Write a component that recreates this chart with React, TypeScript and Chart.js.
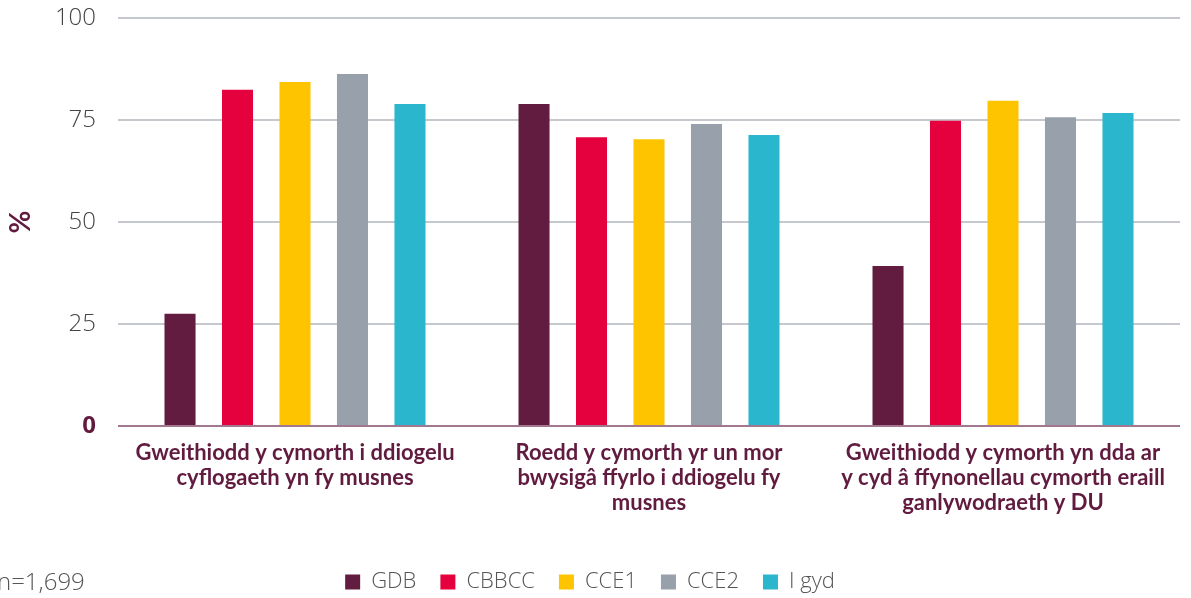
import React, { useEffect, useRef } from 'react';
import { Chart, registerables } from 'chart.js';

Chart.register(...registerables);

const categories: string[][] = [
  ['Gweithiodd y cymorth i ddiogelu', 'cyflogaeth yn fy musnes'],
  ['Roedd y cymorth yr un mor', 'bwysigâ ffyrlo i ddiogelu fy', 'musnes'],
  ['Gweithiodd y cymorth yn dda ar', 'y cyd â ffynonellau cymorth eraill', 'ganlywodraeth y DU'],
];
const seriesNames = ['GDB', 'CBBCC', 'CCE1', 'CCE2', 'I gyd'];
const gdb = [27.5, 78.9, 39.2];
const cbbcc = [82.4, 70.8, 74.8];
const cce1 = [84.3, 70.3, 79.7];
const cce2 = [86.3, 74.0, 75.7];
const iGyd = [78.9, 71.3, 76.7];
const seriesColors = ['#621c3f', '#e5003e', '#fec400', '#98a0ab', '#2ab7cd'];
const yTickValues = [0, 25, 50, 75, 100];
const axisTitle = '%';
const sampleNote = 'n=1,699';

const W = 1191;
const H = 598;
const AREA_LEFT = 118;
const AREA_BOTTOM = 426;
const LEGEND_SHIFT = 5;
const MAROON = '#611b3f';

export default function App() {
  const ref = useRef<HTMLCanvasElement | null>(null);

  useEffect(() => {
    if (!ref.current) return;
    const values = [gdb, cbbcc, cce1, cce2, iGyd];
    const notePlugin = {
      id: 'sampleNote',
      afterDraw(chart: any) {
        const ctx = chart.ctx;
        ctx.save();
        ctx.font = '300 24px "Open Sans"';
        ctx.fillStyle = '#555555';
        ctx.textAlign = 'left';
        ctx.textBaseline = 'middle';
        ctx.fillText(sampleNote, -3, 583);
        ctx.restore();
      },
    };
    const chart = new Chart(ref.current, {
      type: 'bar',
      data: {
        labels: categories,
        datasets: seriesNames.map((name, i) => ({
          label: name,
          data: values[i],
          backgroundColor: seriesColors[i],
          borderWidth: 0,
          categoryPercentage: 0.812,
          barPercentage: 0.54,
        })),
      },
      options: {
        responsive: false,
        animation: false,
        layout: { padding: { top: 18, right: 11, left: 0, bottom: -LEGEND_SHIFT } },
        plugins: {
          tooltip: { enabled: false },
          legend: {
            position: 'bottom',
            labels: {
              boxWidth: 15,
              boxHeight: 15,
              padding: 24,
              color: '#555555',
              font: { family: '"Open Sans"', size: 22, weight: '300' },
            },
          },
        },
        scales: {
          x: {
            grid: { display: false },
            border: { display: false },
            ticks: {
              color: MAROON,
              font: { family: 'Lato', size: 22, weight: 'bold', lineHeight: 1.15 },
              padding: 6,
              maxRotation: 0,
              autoSkip: false,
            },
            afterFit: (scale: any) => {
              const legendH = scale.chart.legend ? scale.chart.legend.height : 0;
              scale.height = H + LEGEND_SHIFT - AREA_BOTTOM - legendH;
              scale.paddingLeft = 0;
              scale.paddingRight = 0;
            },
          },
          y: {
            min: 0,
            max: 100,
            afterBuildTicks: (scale: any) => {
              scale.ticks = yTickValues.map((v) => ({ value: v }));
            },
            afterFit: (scale: any) => {
              scale.width = AREA_LEFT;
              scale.paddingTop = 0;
              scale.paddingBottom = 0;
            },
            border: { display: false },
            grid: {
              drawTicks: false,
              lineWidth: 2,
              color: (ctx: any) => (ctx.tick && ctx.tick.value === 0 ? '#a27891' : '#c5c8cd'),
            },
            ticks: {
              padding: 22,
              color: (ctx: any) => (ctx.tick && ctx.tick.value === 0 ? MAROON : '#444444'),
              font: (ctx: any) =>
                ctx.tick && ctx.tick.value === 0
                  ? { family: '"Open Sans"', size: 24, weight: 'bold' }
                  : { family: '"Open Sans"', size: 24, weight: '300' },
            },
            title: {
              display: true,
              text: axisTitle,
              color: MAROON,
              font: { family: 'Lato', size: 28, weight: 'bold', lineHeight: 1.2 },
              padding: { top: 4, bottom: 0 },
            },
          },
        },
      },
      plugins: [notePlugin],
    } as any);
    return () => chart.destroy();
  }, []);

  return (
    <div style={{ position: 'fixed', left: 0, top: 0, width: W, height: H, background: '#fff' }}>
      <canvas ref={ref} width={W} height={H} style={{ display: 'block', width: W, height: H }} />
    </div>
  );
}
